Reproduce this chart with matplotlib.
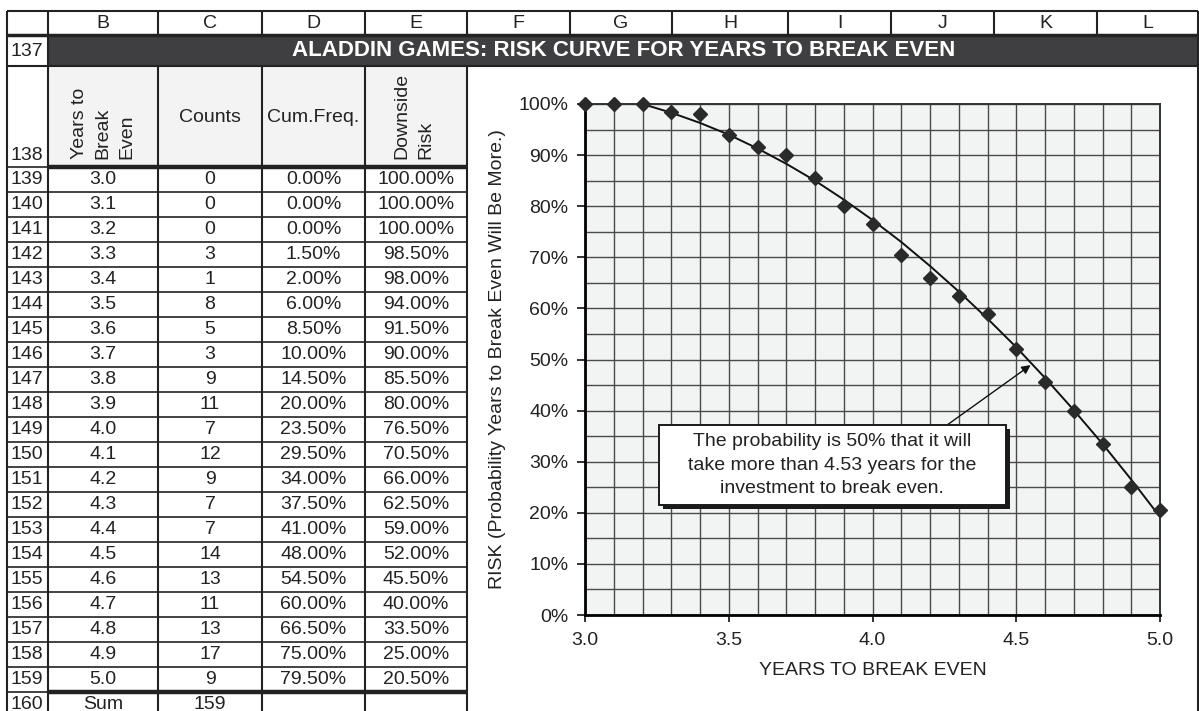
import matplotlib
matplotlib.use("Agg")
import matplotlib.pyplot as plt
import matplotlib.transforms as mtransforms
from matplotlib.patches import Rectangle
from matplotlib.ticker import MultipleLocator, FuncFormatter

plt.rcParams["font.family"] = ["Liberation Sans", "DejaVu Sans"]

# data (table rows 139..159)
years = [3.0, 3.1, 3.2, 3.3, 3.4, 3.5, 3.6, 3.7, 3.8, 3.9, 4.0,
         4.1, 4.2, 4.3, 4.4, 4.5, 4.6, 4.7, 4.8, 4.9, 5.0]
counts = [0, 0, 0, 3, 1, 8, 5, 3, 9, 11, 7, 12, 9, 7, 7, 14, 13, 11, 13, 17, 9]
cum_freq = [0.00, 0.00, 0.00, 1.50, 2.00, 6.00, 8.50, 10.00, 14.50, 20.00,
            23.50, 29.50, 34.00, 37.50, 41.00, 48.00, 54.50, 60.00, 66.50,
            75.00, 79.50]
downside_risk = [100.00, 100.00, 100.00, 98.50, 98.00, 94.00, 91.50, 90.00,
                 85.50, 80.00, 76.50, 70.50, 66.00, 62.50, 59.00, 52.00,
                 45.50, 40.00, 33.50, 25.00, 20.50]
# trendline
trend_years = [3.2, 3.3, 3.4, 3.5, 3.6, 3.7, 3.8, 3.9, 4.0, 4.1,
               4.2, 4.3, 4.4, 4.5, 4.6, 4.7, 4.8, 4.9, 5.0]
trend_risk = [100.0, 98.3, 96.3, 94.0, 91.3, 88.3, 85.0, 81.3, 77.3, 73.0,
              68.3, 63.3, 58.0, 52.4, 46.4, 40.1, 33.5, 26.5, 19.2]
col_letters = ["B", "C", "D", "E", "F", "G", "H", "I", "J", "K", "L"]
first_row = 137
title = "ALADDIN GAMES: RISK CURVE FOR YEARS TO BREAK EVEN"
note = ("The probability is 50% that it will\n"
        "take more than 4.53 years for the\n"
        "investment to break even.")

W, H = 1199, 711
INK = "#222222"
FS = 14

fig = plt.figure(figsize=(W / 100, H / 100), dpi=100)
sheet = fig.add_axes([0, 0, 1, 1])
sheet.set_xlim(0, W)
sheet.set_ylim(H, 0)
sheet.axis("off")

# sheet grid, in pixels
col_x = [7, 48, 158, 262, 365, 467, 570, 672, 788, 891, 994, 1097, 1198]
y_top, y_hdr, y_title, y_r138 = 11, 35, 66, 167
row_h = 25
n = len(years)
y_sum = y_r138 + n * row_h

sheet.add_patch(Rectangle((48, y_hdr), W - 48, y_title - y_hdr,
                          fc="#3f3f41", ec="none"))
sheet.add_patch(Rectangle((48, y_title), col_x[5] - 48, y_r138 - y_title,
                          fc="#f3f3f3", ec="none"))

sheet.hlines(y_top, 7, 1198, color=INK, lw=1.5)
sheet.hlines(y_hdr, 7, 1198, color=INK, lw=2.5)
sheet.hlines(y_title, 7, 1198, color=INK, lw=1.5)
sheet.vlines(col_x, y_top, y_hdr, color=INK, lw=1.5)
sheet.vlines(col_x[:6], y_title, H, color=INK, lw=1.5)
sheet.vlines([7, 48], y_hdr, y_title, color=INK, lw=1.5)
sheet.vlines(1198, y_hdr, H, color=INK, lw=1.5)
for i in range(n + 2):
    y = y_r138 + i * row_h
    sheet.hlines(y, 7, col_x[5], color=INK, lw=1.2)
sheet.hlines([y_r138, y_sum], 48, col_x[5], color=INK, lw=3.2)

# column letters
for k, c in enumerate(col_letters):
    sheet.text((col_x[k + 1] + col_x[k + 2]) / 2, 23.5, c, ha="center",
               va="center", fontsize=FS, color=INK)

sheet.text(W / 2 + 24, 51, title, ha="center", va="center", fontsize=16,
           fontweight="bold", color="white")

# row numbers
sheet.text(27, 51, str(first_row), ha="center", va="center", fontsize=FS,
           color=INK)
sheet.text(27, 155, str(first_row + 1), ha="center", va="center",
           fontsize=FS, color=INK)
for i in range(n + 1):
    sheet.text(27, y_r138 + (i + 0.5) * row_h, str(first_row + 2 + i),
               ha="center", va="center", fontsize=FS, color=INK)

# header row 138
cx = [(col_x[k] + col_x[k + 1]) / 2 for k in range(1, 5)]
sheet.text(cx[0], 159, "Years to\nBreak\nEven", rotation=90, ha="center",
           va="bottom", multialignment="left", fontsize=FS, color=INK,
           linespacing=1.5)
sheet.text(cx[1], 118, "Counts", ha="center", va="center", fontsize=FS,
           color=INK)
sheet.text(cx[2], 118, "Cum.Freq.", ha="center", va="center", fontsize=FS,
           color=INK)
sheet.text(cx[3] - 2, 159, "Downside\nRisk", rotation=90, ha="center",
           va="bottom", multialignment="left", fontsize=FS, color=INK,
           linespacing=1.5)

# table body
for i in range(n):
    yc = y_r138 + (i + 0.5) * row_h
    cells = [f"{years[i]:.1f}", str(counts[i]), f"{cum_freq[i]:.2f}%",
             f"{downside_risk[i]:.2f}%"]
    for x, s in zip(cx, cells):
        sheet.text(x, yc, s, ha="center", va="center", fontsize=FS,
                   color=INK)
yc = y_sum + 0.5 * row_h
sheet.text(cx[0], yc, "Sum", ha="center", va="center", fontsize=FS, color=INK)
sheet.text(cx[1], yc, str(sum(counts)), ha="center", va="center",
           fontsize=FS, color=INK)

# chart
ax = fig.add_axes([585 / W, 1 - 615 / H, 575 / W, 511 / H])
ax.set_facecolor("#f2f4f3")
ax.set_xlim(3.0, 5.0)
ax.set_ylim(0, 100)
ax.xaxis.set_major_locator(MultipleLocator(0.5))
ax.xaxis.set_minor_locator(MultipleLocator(0.1))
ax.yaxis.set_major_locator(MultipleLocator(10))
ax.yaxis.set_minor_locator(MultipleLocator(5))
ax.xaxis.set_major_formatter(FuncFormatter(lambda v, p: f"{v:.1f}"))
ax.yaxis.set_major_formatter(FuncFormatter(lambda v, p: f"{v:.0f}%"))
ax.grid(True, which="both", color="#4a4a4a", lw=1.0)
ax.set_axisbelow(True)
ax.tick_params(axis="both", which="minor", length=0)
ax.tick_params(axis="y", which="major", length=6, width=1.3, pad=6,
               labelsize=FS, colors=INK)
ax.tick_params(axis="x", which="major", length=5, width=1.3, pad=7,
               labelsize=FS, colors=INK)
for side in ["left", "bottom"]:
    ax.spines[side].set_linewidth(2.0)
    ax.spines[side].set_color("black")
for side in ["top", "right"]:
    ax.spines[side].set_linewidth(1.4)
    ax.spines[side].set_color("#333333")

ax.plot(trend_years, trend_risk, color="#111111", lw=1.4, zorder=3)
ax.plot(years, downside_risk, ls="none", marker="D", ms=7.5,
        color="#2a2a2a", clip_on=False, zorder=4)

ax.set_xlabel("YEARS TO BREAK EVEN", fontsize=FS, color=INK)
ax.set_ylabel("RISK (Probability Years to Break Even Will Be More.)",
              fontsize=FS, color=INK)
ax.xaxis.label.set_va("center")
ax.yaxis.label.set_va("center")
ax.xaxis.set_label_coords(0.5, -0.108)
ax.yaxis.set_label_coords(-0.153, 0.5)

# callout box with drop shadow
bx, by, bw, bh = 3.257, 21.5, 1.207, 15.7
shadow_tr = mtransforms.offset_copy(ax.transData, fig, x=4, y=-4,
                                    units="dots")
ax.add_patch(Rectangle((bx, by), bw, bh, fc="#1a1a1a", ec="none",
                       transform=shadow_tr, zorder=5))
ax.add_patch(Rectangle((bx, by), bw, bh, fc="white", ec="#1a1a1a", lw=1.4,
                       zorder=6))
ax.text(bx + bw / 2, by + bh / 2, note, ha="center", va="center",
        fontsize=FS, color=INK, linespacing=1.5, zorder=7)
ax.annotate("", xy=(4.55, 48.9), xytext=(4.26, 37.2),
            arrowprops=dict(arrowstyle="-|>", color="#111111", lw=1.0,
                            mutation_scale=13, shrinkA=0, shrinkB=0),
            zorder=5)

fig.savefig("out.png", dpi=100)
